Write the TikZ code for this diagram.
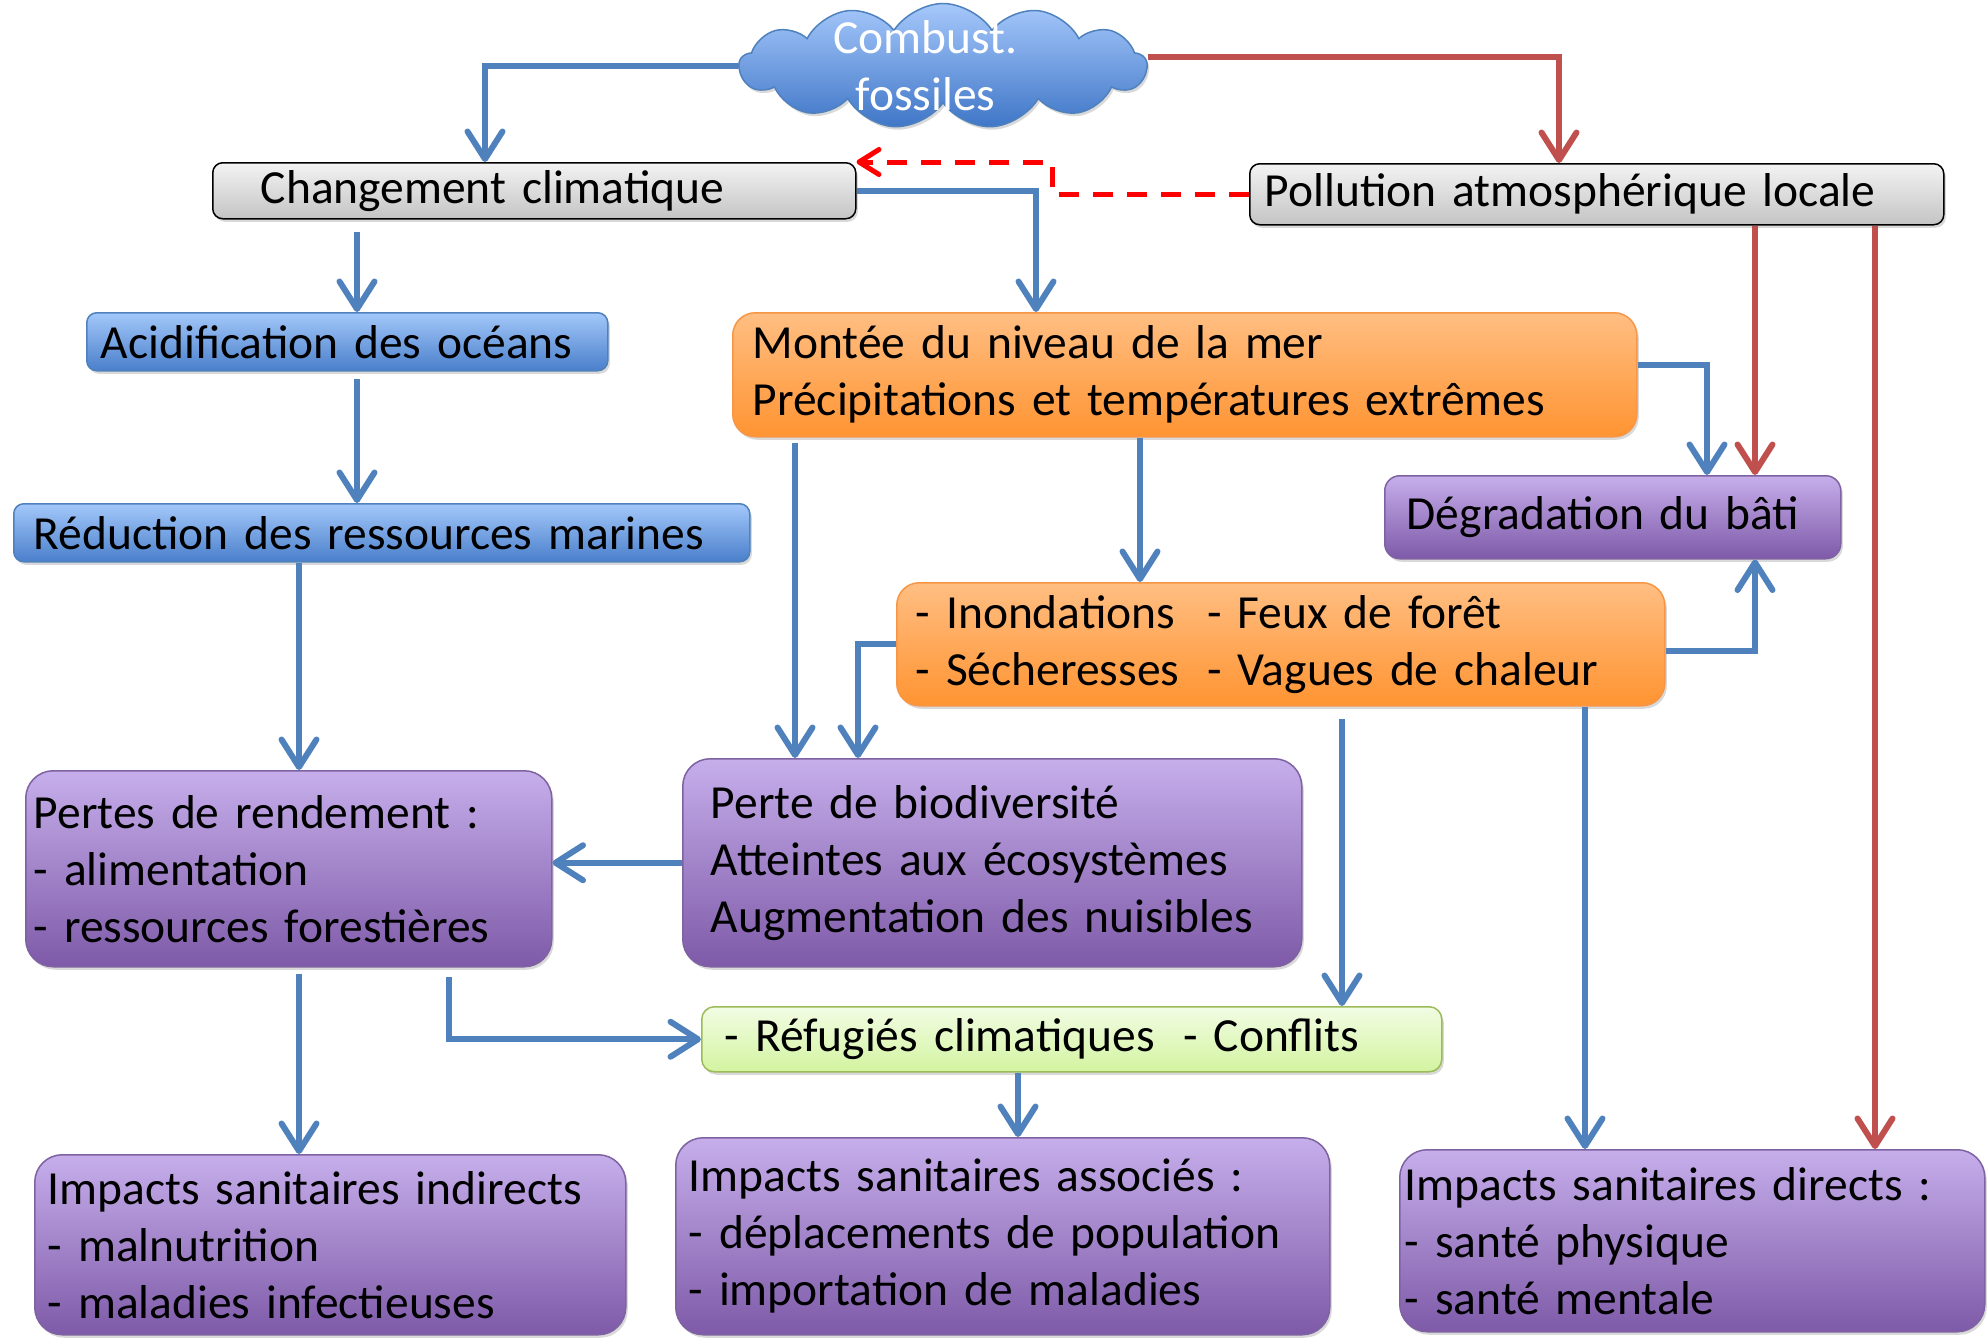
\documentclass[tikz,border=0pt]{standalone}
\usepackage{fontspec}
\setmainfont{Carlito}
\usetikzlibrary{arrows.meta,shapes.symbols,shadows}
\definecolor{bl}{HTML}{4F81BD}
\definecolor{rd}{HTML}{C0504D}
\definecolor{grT}{HTML}{F3F3F3}
\definecolor{grB}{HTML}{C4C4C4}
\definecolor{blT}{HTML}{A3C8FA}
\definecolor{blBo}{HTML}{4A7FCB}
\definecolor{orT}{HTML}{FFBE82}
\definecolor{orB}{HTML}{FF9432}
\definecolor{orD}{HTML}{F79646}
\definecolor{puT}{HTML}{C6AEEB}
\definecolor{puB}{HTML}{7E5AA8}
\definecolor{puD}{HTML}{7E62A1}
\definecolor{gnT}{HTML}{F2FCE4}
\definecolor{gnB}{HTML}{D3F4A0}
\definecolor{gnD}{HTML}{9BBB59}
\definecolor{clT}{HTML}{A6C8FB}
\definecolor{clB}{HTML}{3F76C7}
\newcommand\fs{\fontsize{19}{22.8}\selectfont}
\begin{document}
\begin{tikzpicture}[x=0.4pt,y=-0.4pt,
  shd/.style={drop shadow={shadow xshift=0.8pt,shadow yshift=-1.2pt,opacity=0.3}},
  bx/.style={anchor=north west, align=left, font=\fs, inner ysep=0pt, shd, line width=0.6pt},
  graybox/.style={bx, draw=black, rounded corners=4pt, top color=grT, bottom color=grB},
  bluebox/.style={bx, draw=bl, rounded corners=4pt, top color=blT, bottom color=blBo},
  orangebox/.style={bx, draw=orD, rounded corners=9pt, top color=orT, bottom color=orB},
  purplebox/.style={bx, draw=puD, rounded corners=11pt, top color=puT, bottom color=puB},
  greenbox/.style={bx, draw=gnD, rounded corners=5pt, top color=gnT, bottom color=gnB},
  barb/.style={draw=bl, line width=2.4pt, -{Straight Barb[length=11pt,width=14pt,round]}},
  rbarb/.style={draw=rd, line width=2.4pt, -{Straight Barb[length=11pt,width=14pt,round]}},
  dbarb/.style={draw=red, line width=2pt, dash pattern=on 8pt off 5.6pt, -{Straight Barb[length=8pt,width=10pt,round]}}
]
\useasboundingbox (0,0) rectangle (1987,1340);

% cloud
\node[cloud, cloud puffs=13, cloud puff arc=115, cloud ignores aspect,
      minimum width=163pt, minimum height=50pt, inner sep=0pt,
      draw=bl, line width=0.6pt, top color=clT, bottom color=clB, shd,
      label={[text=white, align=center, font=\fs, xshift=-7pt]center:{Combust.\\fossiles}}]
      (cf) at (943,66) {};

% boxes
\node[graybox, inner xsep=19.2pt, text width=218.8pt, minimum height=22.4pt] (cc) at (212,162) {Changement climatique};
\node[graybox, inner xsep=6pt, text width=265.6pt, minimum height=24.4pt] (pol) at (1249,163) {Pollution atmosphérique locale};
\node[bluebox, inner xsep=5.6pt, text width=197.2pt, minimum height=23.2pt] (aci) at (86,312) {Acidification des océans};
\node[bluebox, inner xsep=8pt, text width=278.4pt, minimum height=23.2pt] (red) at (13,503) {Réduction des ressources marines};
\node[orangebox, inner xsep=8pt, text width=345.6pt, minimum height=49.6pt] (mon) at (732,312) {Montée du niveau de la mer\\Précipitations et températures extrêmes};
\node[purplebox, rounded corners=6pt, inner xsep=8.8pt, text width=164.8pt, minimum height=33.2pt] (deg) at (1384,475) {Dégradation du bâti};
\node[orangebox, inner xsep=7.6pt, text width=292pt, minimum height=49.2pt] (ino) at (896,582) {\makebox[116.6pt][l]{- Inondations}- Feux de forêt\\\makebox[116.6pt][l]{- Sécheresses}- Vagues de chaleur};
\node[purplebox, inner xsep=11.2pt, text width=225.2pt, minimum height=83.2pt] (bio) at (682,758) {Perte de biodiversité\\Atteintes aux écosystèmes\\Augmentation des nuisibles};
\node[purplebox, inner xsep=3.2pt, text width=204pt, minimum height=78.4pt] (ren) at (25,770) {Pertes de rendement :\\- alimentation\\- ressources forestières};
\node[greenbox, inner xsep=9.2pt, text width=277.6pt, minimum height=26pt] (ref) at (701,1006) {\makebox[183.5pt][l]{- Réfugiés climatiques}- Conflits};
\node[purplebox, inner xsep=5.2pt, text width=226pt, minimum height=72pt] (ind) at (34,1154) {Impacts sanitaires indirects\\- malnutrition\\- maladies infectieuses};
\node[purplebox, inner xsep=5.2pt, text width=251.2pt, minimum height=78.8pt] (ass) at (675,1137) {Impacts sanitaires associés :\\- déplacements de population\\- importation de maladies};
\node[purplebox, inner xsep=2pt, text width=230pt, minimum height=72.8pt] (dir) at (1399,1149) {Impacts sanitaires directs :\\- santé physique\\- santé mentale};

% connectors
\draw[barb] (cf.west) -| (cc.north-|485,0);
\draw[rbarb] ([yshift=3.6pt]cf.east) -| (pol.north-|1559,0);
\draw[dbarb] (pol.west) -| (1052,0|-cc.north east) -- (cc.north east);
\draw[barb] (cc.east) -| (mon.north-|1036,0);
\draw[barb, shorten <=5pt] (cc.south-|357,0) -- (aci.north-|357,0);
\draw[barb, shorten <=3pt] (aci.south-|357,0) -- (red.north-|357,0);
\draw[barb] (red.south-|299,0) -- (ren.north-|299,0);
\draw[barb, shorten <=2pt] (mon.south-|795,0) -- (bio.north-|795,0);
\draw[barb] (mon.south-|1140,0) -- (ino.north-|1140,0);
\draw[barb] ([yshift=4pt]mon.east) -| (deg.north-|1707,0);
\draw[rbarb] (pol.south-|1755,0) -- (deg.north-|1755,0);
\draw[rbarb] (pol.south-|1875,0) -- (dir.north-|1875,0);
\draw[barb] ([yshift=-2.6pt]ino.east) -| (deg.south-|1755,0);
\draw[barb] (ino.west) -| (bio.north-|858,0);
\draw[barb, shorten <=5pt] (ino.south-|1342,0) -- (ref.north-|1342,0);
\draw[barb] (ino.south-|1585,0) -- (dir.north-|1585,0);
\draw[barb] (bio.west) -- (ren.east|-bio.west);
\draw[barb, shorten <=2.4pt] (ren.south-|299,0) -- (ind.north-|299,0);
\draw[barb, shorten <=3.6pt] (ren.south-|449,0) |- (ref.west);
\draw[barb] (ref.south-|1018,0) -- (ass.north-|1018,0);
\end{tikzpicture}
\end{document}
